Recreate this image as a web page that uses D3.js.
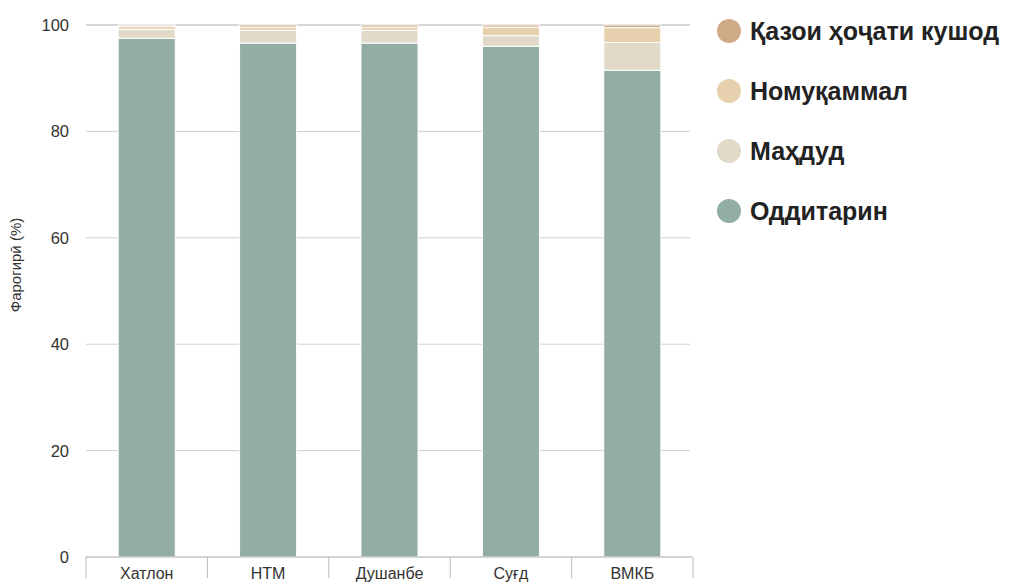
<!DOCTYPE html>
<html>
<head>
<meta charset="utf-8">
<script src="https://cdn.jsdelivr.net/npm/d3@7"></script>
<style>
  body { margin: 0; background: #fff; }
  text { font-family: "Liberation Sans", Arial, sans-serif; }
</style>
</head>
<body>
<script>
const w = 1009, h = 584;
const margin = { left: 86, right: 316, top: 25, bottom: 27 };

const regions = ['Хатлон', 'НТМ', 'Душанбе', 'Суғд', 'ВМКБ'];
const keys = ['Оддитарин', 'Маҳдуд', 'Номуқаммал', 'Қазои ҳоҷати кушод'];
const basic = [97.5, 96.6, 96.6, 96.0, 91.5];
const limited = [1.7, 2.4, 2.4, 2.0, 5.2];
const unimproved = [0.55, 0.6, 0.6, 1.6, 2.8];
const openDef = [0.25, 0.4, 0.4, 0.4, 0.5];
const yTicks = [0, 20, 40, 60, 80, 100];
const colors = ['#92ada4', '#e1dac8', '#e6d0ae', '#cfaa86'];

const rows = regions.map((r, i) => ({
  region: r,
  'Оддитарин': basic[i],
  'Маҳдуд': limited[i],
  'Номуқаммал': unimproved[i],
  'Қазои ҳоҷати кушод': openDef[i]
}));

const svg = d3.select('body').append('svg')
  .attr('width', w).attr('height', h);

const x = d3.scaleBand()
  .domain(regions)
  .range([margin.left, 693])
  .paddingInner(0.53)
  .paddingOuter(0.265);

const y = d3.scaleLinear()
  .domain([0, 100])
  .range([h - margin.bottom, margin.top]);

// grid
svg.append('g')
  .selectAll('line')
  .data(yTicks)
  .enter().append('line')
  .attr('x1', margin.left).attr('x2', 690)
  .attr('y1', d => y(d)).attr('y2', d => y(d))
  .attr('stroke', d => d === 100 ? '#c9c9d0' : '#cfcfcf')
  .attr('stroke-width', d => d === 100 ? 1.6 : 1);

// y tick labels
svg.append('g')
  .selectAll('text')
  .data(yTicks)
  .enter().append('text')
  .attr('x', 69)
  .attr('y', d => y(d) + 6)
  .attr('text-anchor', 'end')
  .attr('font-size', '16.5px')
  .attr('fill', '#333')
  .text(d => d);

svg.append('text')
  .attr('transform', `translate(21, 265) rotate(-90)`)
  .attr('text-anchor', 'middle')
  .attr('font-size', '15px')
  .attr('fill', '#333')
  .text('Фарогирӣ (%)');

// bars
const series = d3.stack().keys(keys)(rows);

svg.append('g')
  .selectAll('g')
  .data(series)
  .enter().append('g')
  .attr('fill', (_, i) => colors[i])
  .selectAll('rect')
  .data(d => d)
  .enter().append('rect')
  .attr('x', d => x(d.data.region))
  .attr('width', x.bandwidth())
  .attr('y', d => y(d[1]))
  .attr('height', d => y(d[0]) - y(d[1]))
  .attr('stroke', '#fff')
  .attr('stroke-width', 1);

// x axis
const xAxis = svg.append('g');
xAxis.append('line')
  .attr('x1', margin.left).attr('x2', 693)
  .attr('y1', y(0)).attr('y2', y(0))
  .attr('stroke', '#bbb');
const bounds = d3.range(regions.length + 1).map(i => margin.left + i * x.step());
xAxis.selectAll('.tick')
  .data(bounds)
  .enter().append('line')
  .attr('x1', d => d).attr('x2', d => d)
  .attr('y1', y(0)).attr('y2', 578)
  .attr('stroke', '#bbb');
xAxis.selectAll('text')
  .data(regions)
  .enter().append('text')
  .attr('x', d => x(d) + x.bandwidth() / 2)
  .attr('y', 579)
  .attr('text-anchor', 'middle')
  .attr('font-size', '16px')
  .attr('fill', '#333')
  .text(d => d);

// legend
const legendKeys = keys.slice().reverse();
const legendColors = colors.slice().reverse();
const lg = svg.append('g')
  .selectAll('g')
  .data(legendKeys)
  .enter().append('g')
  .attr('transform', (_, i) => `translate(729, ${31 + i * 60})`);
lg.append('circle')
  .attr('r', 12)
  .attr('fill', (_, i) => legendColors[i]);
lg.append('text')
  .attr('x', 21)
  .attr('y', 9)
  .attr('font-size', '25px')
  .attr('font-weight', 'bold')
  .attr('fill', '#222')
  .text(d => d);
</script>
</body>
</html>
